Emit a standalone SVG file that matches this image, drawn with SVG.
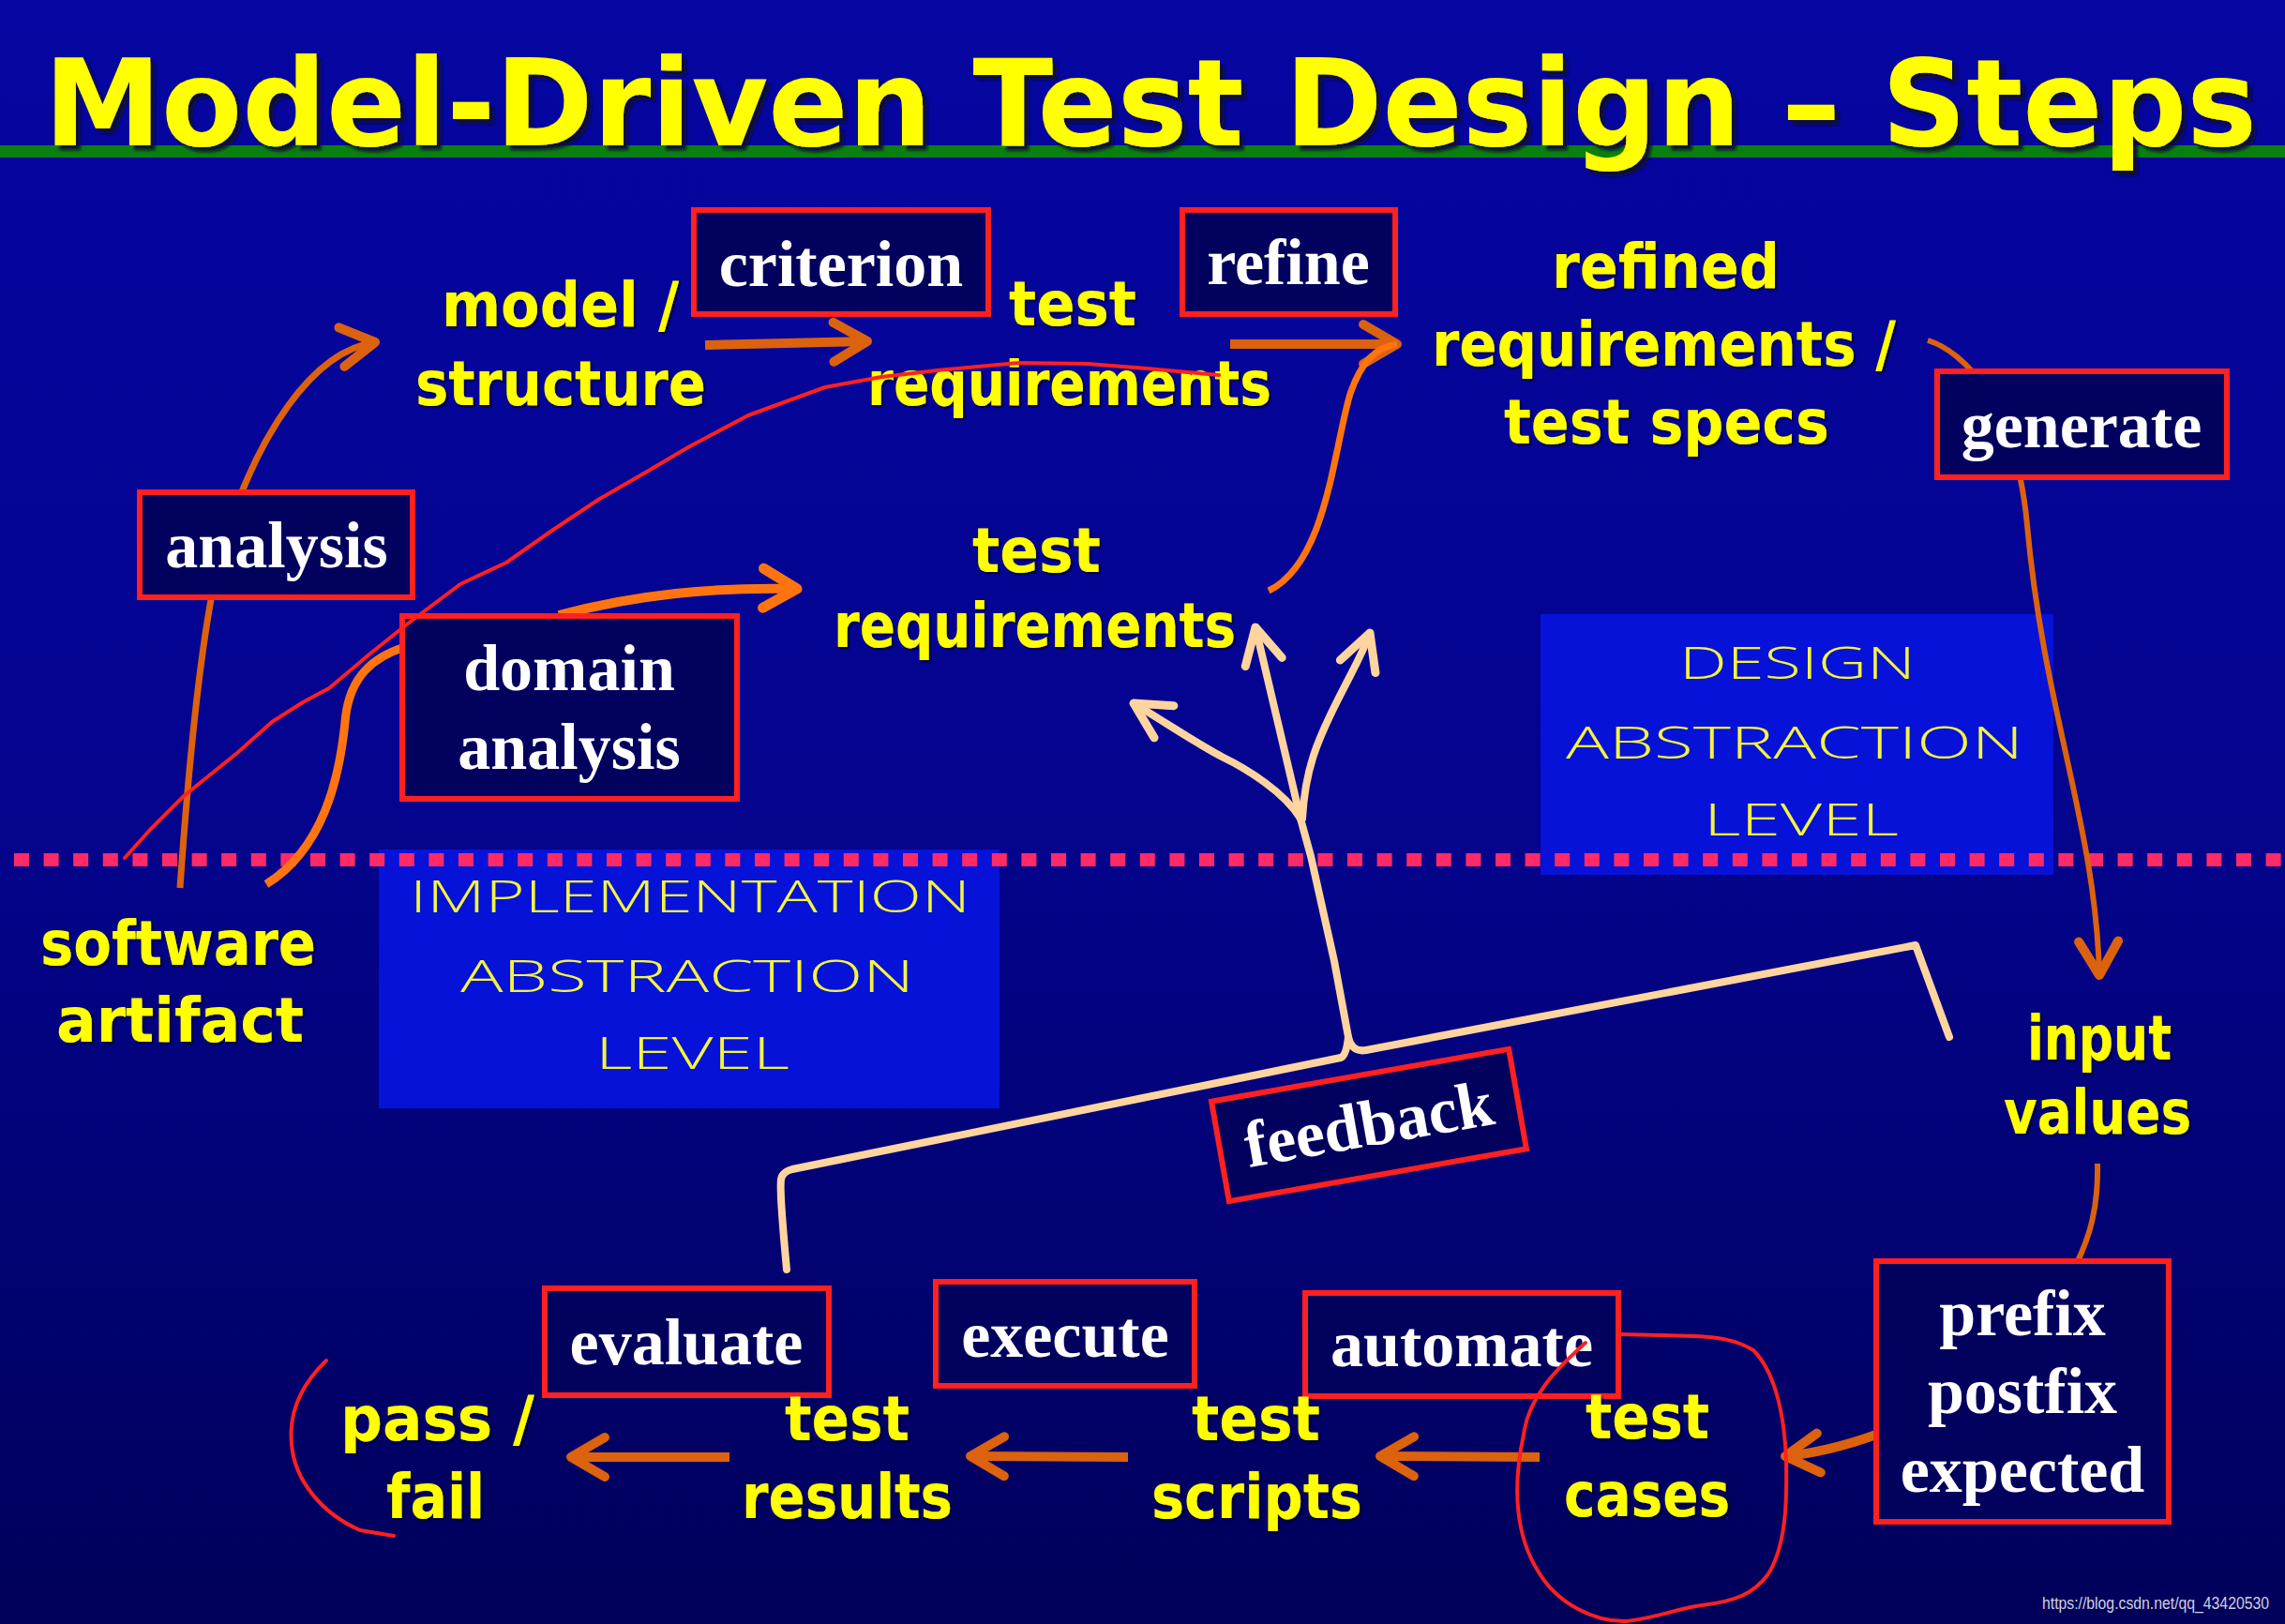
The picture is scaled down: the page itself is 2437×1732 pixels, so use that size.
<svg xmlns="http://www.w3.org/2000/svg" width="2437" height="1732" viewBox="0 0 2437 1732">
<defs>
  <linearGradient id="bg" x1="0" y1="0" x2="0" y2="1">
    <stop offset="0" stop-color="#0606A2"/>
    <stop offset="0.5" stop-color="#04048E"/>
    <stop offset="1" stop-color="#00005A"/>
  </linearGradient>
  <filter id="sh" x="-5%" y="-5%" width="110%" height="120%">
    <feDropShadow dx="2" dy="2" stdDeviation="1" flood-color="#000020" flood-opacity="0.8"/>
  </filter>
  <filter id="tsh" x="-2%" y="-10%" width="104%" height="130%">
    <feDropShadow dx="5" dy="5" stdDeviation="1.5" flood-color="#101030" flood-opacity="0.9"/>
  </filter>
  <marker id="chevD" markerUnits="userSpaceOnUse" markerWidth="80" markerHeight="80" refX="0" refY="0" orient="auto" overflow="visible">
    <path d="M-36,-21 L0,0 L-36,21" fill="none" stroke="#DC620E" stroke-width="10" stroke-linecap="round" stroke-linejoin="round"/>
  </marker>
  <marker id="chevB" markerUnits="userSpaceOnUse" markerWidth="80" markerHeight="80" refX="0" refY="0" orient="auto" overflow="visible">
    <path d="M-36,-21 L0,0 L-36,21" fill="none" stroke="#FF7410" stroke-width="11" stroke-linecap="round" stroke-linejoin="round"/>
  </marker>
  <marker id="chevP" markerUnits="userSpaceOnUse" markerWidth="80" markerHeight="80" refX="0" refY="0" orient="auto" overflow="visible">
    <path d="M-38,-20 L0,0 L-38,20" fill="none" stroke="#FFD49E" stroke-width="9" stroke-linecap="round" stroke-linejoin="round"/>
  </marker>
  <style>
    .box { fill: #02025E; stroke: #FF2020; stroke-width: 6; }
    .bt { font-family: "Liberation Serif", "Times New Roman", serif; font-weight: bold; font-size: 70px; fill: #FFFFFF; text-anchor: middle; }
    .yt { font-family: "DejaVu Sans", "Verdana", sans-serif; font-weight: bold; font-size: 66px; fill: #FFFF00; }
    .abs { fill: #0612D8; }
    .at { font-family: "Open Sans", "DejaVu Sans", sans-serif; font-weight: 300; font-size: 48px; fill: #F4F440; }
    .od { fill: none; stroke: #DC620E; stroke-linecap: butt; stroke-linejoin: round; }
    .ob { fill: none; stroke: #FF7410; stroke-linecap: butt; stroke-linejoin: round; }
    .pe { fill: none; stroke: #FFD49E; stroke-width: 8; stroke-linecap: round; stroke-linejoin: round; }
    .red { fill: none; stroke: #FF2020; stroke-width: 4; stroke-linecap: round; stroke-linejoin: round; }
  </style>
</defs>

<rect x="0" y="0" width="2437" height="1732" fill="url(#bg)"/>

<!-- abstraction level panels -->
<g id="implementation-level">
  <rect class="abs" x="404" y="906" width="662" height="276"/>
  <text class="at" x="437" y="973" textLength="598" lengthAdjust="spacingAndGlyphs">IMPLEMENTATION</text>
  <text class="at" x="491" y="1058" textLength="484" lengthAdjust="spacingAndGlyphs">ABSTRACTION</text>
  <text class="at" x="635" y="1140" textLength="207" lengthAdjust="spacingAndGlyphs">LEVEL</text>
</g>
<g id="design-level">
  <rect class="abs" x="1643" y="655" width="547" height="278"/>
  <text class="at" x="1791" y="724" textLength="252" lengthAdjust="spacingAndGlyphs">DESIGN</text>
  <text class="at" x="1670" y="809" textLength="488" lengthAdjust="spacingAndGlyphs">ABSTRACTION</text>
  <text class="at" x="1817" y="891" textLength="208" lengthAdjust="spacingAndGlyphs">LEVEL</text>
</g>

<!-- dotted separator -->
<line id="separator" x1="15" y1="917" x2="2437" y2="917" stroke="#FF2A66" stroke-width="14" stroke-dasharray="16 15.6"/>

<!-- title -->
<g id="title">
  <rect x="0" y="155" width="2437" height="13" fill="#0A8010"/>
  <text transform="scale(1,1.04)" x="47" y="149" font-family="DejaVu Sans, Verdana, sans-serif" font-weight="bold" font-size="124" fill="#FFFF00" textLength="2360" lengthAdjust="spacingAndGlyphs" filter="url(#tsh)">Model-Driven Test Design – Steps</text>
</g>

<!-- connectors -->
<g id="connectors">
  <path class="od" stroke-width="7" d="M192,947 C205,760 222,620 245,560 C275,470 330,375 400,365" marker-end="url(#chevD)"/>
  <path class="od" stroke-width="10" d="M752,368 L925,364" marker-end="url(#chevD)"/>
  <path class="od" stroke-width="10" d="M1312,367 L1490,367" marker-end="url(#chevD)"/>
  <path class="ob" stroke-width="7" d="M1353,630 C1415,600 1422,480 1440,420 C1452,385 1468,370 1490,367"/>
  <path class="ob" stroke-width="9" d="M284,943 C345,905 362,830 368,770 C372,720 400,700 432,690"/>
  <path class="ob" stroke-width="10" d="M596,656 C680,634 760,626 850,628" marker-end="url(#chevB)"/>
  <path class="od" stroke-width="6" d="M2056,363 C2095,375 2150,430 2162,560 C2180,760 2235,880 2239,1040" marker-end="url(#chevD)"/>
  <path class="od" stroke-width="6" d="M2237,1241 C2238,1290 2228,1320 2215,1347"/>
  <path class="od" stroke-width="10" d="M2001,1530 C1965,1543 1935,1550 1904,1553" marker-end="url(#chevD)"/>
  <path class="od" stroke-width="10" d="M1642,1554 L1472,1553" marker-end="url(#chevD)"/>
  <path class="od" stroke-width="10" d="M1203,1554 L1035,1553" marker-end="url(#chevD)"/>
  <path class="od" stroke-width="10" d="M778,1554 L609,1554" marker-end="url(#chevD)"/>
  <!-- feedback tree -->
  <path class="pe" d="M839,1354 C836,1320 831,1270 833,1258 Q834,1250 845,1247 L1430,1128 C1435,1126 1437,1115 1438,1106 C1440,1116 1446,1122 1457,1120 L2043,1008 L2079,1106"/>
  <path class="pe" d="M1438,1106 L1423,1025 L1398,913 L1387,873"/>
  <path class="pe" d="M1387,873 C1370,845 1330,820 1303,807 C1280,795 1250,775 1209,750" marker-end="url(#chevP)"/>
  <path class="pe" d="M1387,873 L1339,669" marker-end="url(#chevP)"/>
  <path class="pe" d="M1389,873 C1392,820 1405,790 1425,750 S1452,700 1461,675" marker-end="url(#chevP)"/>
</g>

<!-- nodes -->
<g id="node-criterion"><rect class="box" x="740" y="224" width="314" height="111"/><text class="bt" x="897" y="305">criterion</text></g>
<g id="node-refine"><rect class="box" x="1261" y="224" width="227" height="111"/><text class="bt" x="1374" y="303">refine</text></g>
<g id="node-generate"><rect class="box" x="2066" y="396" width="309" height="113"/><text class="bt" x="2220" y="477">generate</text></g>
<g id="node-analysis"><rect class="box" x="149" y="525" width="291" height="112"/><text class="bt" x="295" y="605">analysis</text></g>
<g id="node-domain-analysis"><rect class="box" x="429" y="657" width="357" height="195"/><text class="bt" x="607" y="736">domain</text><text class="bt" x="607" y="820">analysis</text></g>
<g id="node-evaluate"><rect class="box" x="581" y="1374" width="303" height="114"/><text class="bt" x="732" y="1455">evaluate</text></g>
<g id="node-execute"><rect class="box" x="998" y="1367" width="276" height="111"/><text class="bt" x="1136" y="1447">execute</text></g>
<g id="node-automate"><rect class="box" x="1392" y="1379" width="334" height="110"/><text class="bt" x="1559" y="1457">automate</text></g>
<g id="node-prefix"><rect class="box" x="2001" y="1345" width="312" height="278"/><text class="bt" x="2157" y="1424">prefix</text><text class="bt" x="2157" y="1507">postfix</text><text class="bt" x="2157" y="1591">expected</text></g>
<g id="node-feedback" transform="translate(1460,1200) rotate(-10)"><rect class="box" x="-161" y="-54" width="322" height="108"/><text class="bt" x="0" y="22">feedback</text></g>

<!-- yellow labels -->
<g id="labels" filter="url(#sh)">
  <g id="node-model-structure"><text class="yt" x="471" y="348" textLength="253" lengthAdjust="spacingAndGlyphs">model /</text><text class="yt" x="443" y="432" textLength="310" lengthAdjust="spacingAndGlyphs">structure</text></g>
  <g id="node-test-requirements-1"><text class="yt" x="1076" y="347" textLength="136" lengthAdjust="spacingAndGlyphs">test</text><text class="yt" x="925" y="432" textLength="431" lengthAdjust="spacingAndGlyphs">requirements</text></g>
  <g id="node-refined-requirements"><text class="yt" x="1655" y="307" textLength="243" lengthAdjust="spacingAndGlyphs">refined</text><text class="yt" x="1527" y="390" textLength="495" lengthAdjust="spacingAndGlyphs">requirements /</text><text class="yt" x="1604" y="473" textLength="347" lengthAdjust="spacingAndGlyphs">test specs</text></g>
  <g id="node-test-requirements-2"><text class="yt" x="1037" y="610" textLength="137" lengthAdjust="spacingAndGlyphs">test</text><text class="yt" x="889" y="690" textLength="429" lengthAdjust="spacingAndGlyphs">requirements</text></g>
  <g id="node-software-artifact"><text class="yt" x="43" y="1029" textLength="294" lengthAdjust="spacingAndGlyphs">software</text><text class="yt" x="60" y="1111" textLength="264" lengthAdjust="spacingAndGlyphs">artifact</text></g>
  <g id="node-input-values"><text class="yt" x="2162" y="1130" textLength="154" lengthAdjust="spacingAndGlyphs">input</text><text class="yt" x="2137" y="1209" textLength="200" lengthAdjust="spacingAndGlyphs">values</text></g>
  <g id="node-pass-fail"><text class="yt" x="363" y="1536" textLength="207" lengthAdjust="spacingAndGlyphs">pass /</text><text class="yt" x="412" y="1619" textLength="105" lengthAdjust="spacingAndGlyphs">fail</text></g>
  <g id="node-test-results"><text class="yt" x="837" y="1536" textLength="133" lengthAdjust="spacingAndGlyphs">test</text><text class="yt" x="791" y="1619" textLength="225" lengthAdjust="spacingAndGlyphs">results</text></g>
  <g id="node-test-scripts"><text class="yt" x="1271" y="1536" textLength="137" lengthAdjust="spacingAndGlyphs">test</text><text class="yt" x="1228" y="1619" textLength="225" lengthAdjust="spacingAndGlyphs">scripts</text></g>
  <g id="node-test-cases"><text class="yt" x="1691" y="1534" textLength="132" lengthAdjust="spacingAndGlyphs">test</text><text class="yt" x="1668" y="1617" textLength="177" lengthAdjust="spacingAndGlyphs">cases</text></g>
</g>

<!-- hand-drawn red annotations -->
<g id="annotations">
  <path class="red" d="M133,915 L160,885 L196,849 L253,803 L290,770 L323,749 L351,734 L395,697 L435,665 L491,623 L540,600 L590,565 L638,533 L690,503 L734,477 L798,443 L880,413 L940,402 L1000,395 L1086,387 L1160,388 L1223,393 L1300,400"/>
  <path class="red" d="M348,1451 C318,1480 308,1510 311,1540 C314,1580 345,1615 384,1632 L420,1638"/>
  <path class="red" d="M1691,1432 C1660,1460 1630,1490 1625,1530 C1612,1590 1618,1640 1640,1675 C1660,1710 1700,1730 1735,1729 C1770,1725 1790,1715 1815,1712 C1850,1708 1870,1700 1885,1680 C1905,1650 1906,1600 1905,1558 C1903,1500 1890,1460 1870,1440 C1850,1428 1830,1426 1807,1425 L1726,1423"/>
</g>

<text transform="scale(1,1.19)" x="2178" y="1442" font-family="Liberation Sans, Arial, sans-serif" font-size="15.5" fill="#D0D0E0" textLength="242" lengthAdjust="spacingAndGlyphs">https://blog.csdn.net/qq_43420530</text>
</svg>
